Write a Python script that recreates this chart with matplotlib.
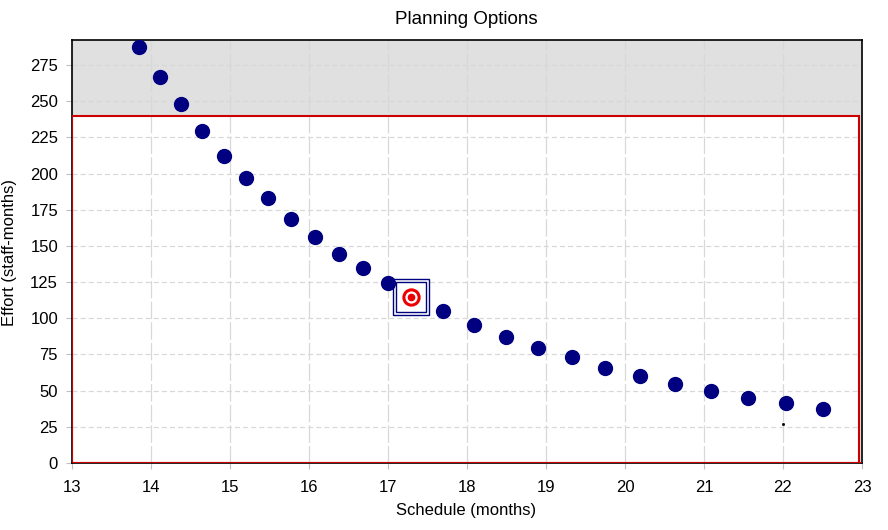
import matplotlib
matplotlib.use("Agg")
import matplotlib.pyplot as plt
from matplotlib.patches import Rectangle

plt.rcParams['font.family'] = ['Liberation Sans', 'DejaVu Sans']

schedule = [13.85, 14.11, 14.38, 14.65, 14.92, 15.20, 15.48, 15.77, 16.08, 16.38,
            16.68, 17.00, 17.70, 18.09, 18.49, 18.90, 19.33, 19.75, 20.19, 20.63,
            21.09, 21.56, 22.04, 22.51]
effort = [287.5, 266.8, 248.1, 229.4, 212.2, 197.0, 183.1, 168.6, 156.2, 144.4,
          134.8, 124.4, 105.0, 95.4, 87.1, 79.5, 73.3, 65.7, 60.1, 54.6,
          49.8, 44.9, 41.5, 37.3]
target_x, target_y = 17.29, 114.7
tiny_x, tiny_y = 22.0, 27.0
limit_effort = 240
limit_schedule = 22.96

xticks = list(range(13, 24))
yticks = list(range(0, 276, 25))

W, H = 888, 530
fig = plt.figure(figsize=(W/100, H/100), dpi=100)
ax = fig.add_axes([72/W, 1-463/H, 790/W, 423/H])
ax.set_xlim(13, 23)
ax.set_ylim(0, 292.3)

ax.set_facecolor('#e0e0e0')
ax.add_patch(Rectangle((13, 0), limit_schedule-13, limit_effort, facecolor='white',
                       edgecolor='none', zorder=0.5))

ax.set_xticks(xticks)
ax.set_yticks(yticks)
for x in xticks:
    ax.axvline(x, color='#d8d8d8', linestyle=(0, (14, 2.5)), linewidth=0.9, zorder=0.6)
for y in yticks:
    ax.axhline(y, color='#d8d8d8', linestyle=(0, (4, 2.5)), linewidth=0.9, zorder=0.6)
ax.tick_params(axis='both', colors='#c0c0c0', labelcolor='black', labelsize=12, length=4)
ax.tick_params(axis='x', pad=8)
ax.tick_params(axis='y', pad=6)

ax.add_patch(Rectangle((13, 0), limit_schedule-13, limit_effort, facecolor='none',
                       edgecolor='#cc0000', linewidth=1.5, zorder=2.5))

ax.plot(schedule, effort, 'o', color='#000080', markersize=10, zorder=3)
ax.plot([tiny_x], [tiny_y], 's', color='black', markersize=1, zorder=3)

ax.plot([target_x], [target_y], 's', markersize=26, markerfacecolor='none',
        markeredgecolor='#000080', markeredgewidth=1.0, zorder=4)
ax.plot([target_x], [target_y], 's', markersize=21.5, markerfacecolor='white',
        markeredgecolor='#000080', markeredgewidth=1.0, zorder=4)
ax.plot([target_x], [target_y], 'o', markersize=11, markerfacecolor='white',
        markeredgecolor='#ee0000', markeredgewidth=2.2, zorder=5)
ax.plot([target_x], [target_y], 'o', markersize=4.5, color='#ee0000', zorder=6)

ax.axhline(0, color='#cc0000', linewidth=1.5, zorder=7)

for s in ax.spines.values():
    s.set_color('black')
    s.set_linewidth(1.2)
    s.set_zorder(2)

fig.text(466/W, 1-19/H, 'Planning Options', fontsize=13.5, ha='center', va='center')
fig.text(466/W, 1-510/H, 'Schedule (months)', fontsize=12, ha='center', va='center')
fig.text(10/W, 1-252/H, 'Effort (staff-months)', fontsize=12, ha='center', va='center',
         rotation=90)

fig.savefig('out.png', dpi=100)
